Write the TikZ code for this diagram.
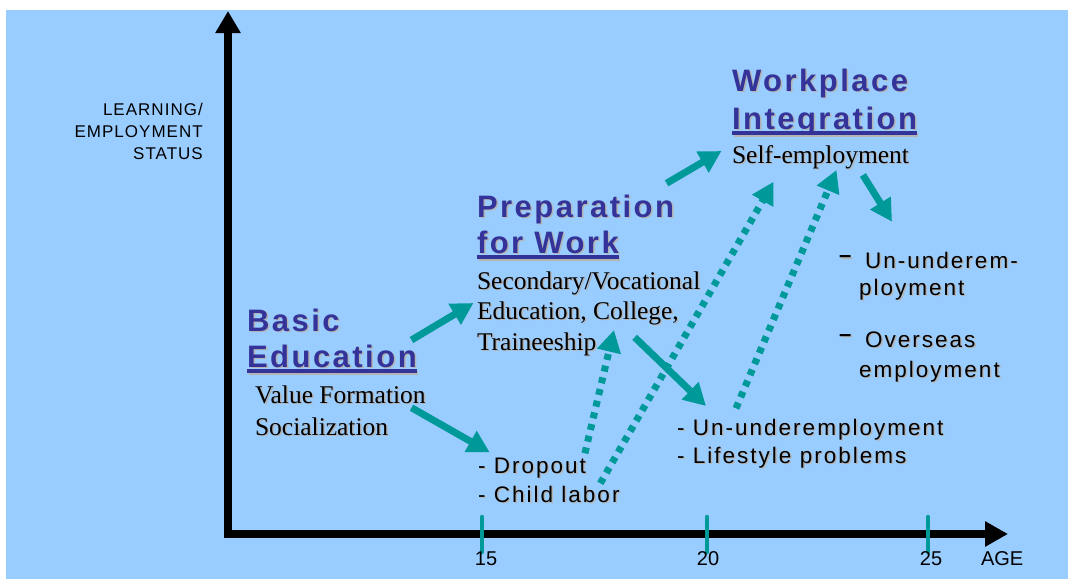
\documentclass[tikz,border=0pt]{standalone}
\usepackage{fontspec}
\setmainfont{Liberation Serif}
\setsansfont{Liberation Sans}
\newfontfamily\ttlfont[LetterSpace=8]{Liberation Sans}
\newfontfamily\bodyfont[LetterSpace=9]{Liberation Sans}
\newfontfamily\axfont[LetterSpace=6]{Liberation Sans}
\usetikzlibrary{arrows.meta}
\definecolor{bgblue}{HTML}{99CCFF}
\definecolor{tealc}{HTML}{009999}
\definecolor{ttlblue}{HTML}{333399}
\definecolor{shadowc}{HTML}{B4B4B4}
\newcommand\shtxt[1]{\leavevmode\rlap{\kern1.5pt\raisebox{-1.5pt}{\color{shadowc}#1}}#1}
\begin{document}
\begin{tikzpicture}[x=1pt,y=-1pt,
 txt/.style={inner sep=0pt, outer sep=0pt, anchor=base west},
 ttl/.style={txt, font=\ttlfont\bfseries\fontsize{31}{36}\selectfont, text=ttlblue},
 ser/.style={txt, font=\rmfamily\fontsize{25.5}{30}\selectfont},
 sns/.style={txt, font=\bodyfont\fontsize{22.5}{28}\selectfont},
 bul/.style={txt, font=\sffamily\bfseries\fontsize{22}{28}\selectfont},
 axl/.style={inner sep=0pt, anchor=base east, font=\axfont\fontsize{17}{22}\selectfont},
 tkl/.style={inner sep=0pt, anchor=base, font=\sffamily\fontsize{20}{24}\selectfont},
 flow/.style={tealc, line width=7pt, -{Triangle[length=22pt,width=23pt]}},
 dflow/.style={flow, dash pattern=on 6pt off 6pt},
 axisl/.style={line width=8pt, black, line join=miter, {Triangle[length=22pt,width=24pt]}-{Triangle[length=23pt,width=24pt]}},
 tickl/.style={tealc, line width=4.5pt, line cap=round},
 ul/.style={ttlblue, line width=4pt},
 ulsh/.style={shadowc, line width=4pt},
]
\useasboundingbox (0,0) rectangle (1068,579);
\fill[bgblue] (6,10) rectangle (1068,579);

% axes
\coordinate (ytop) at (228,11);
\coordinate (orig) at (228,534);
\coordinate (xend) at (1008,534);
\draw[axisl] (ytop) -- (orig) -- (xend);

% ticks
\draw[tickl] (482,517) -- (482,552);
\draw[tickl] (707,517) -- (707,552);
\draw[tickl] (928,517) -- (928,552);

% axis labels
\node[axl] (y1) at (203,115) {LEARNING/};
\node[axl] (y2) at (203,137) {EMPLOYMENT};
\node[axl] (y3) at (203,159) {STATUS};
\node[tkl] (k15) at (486,565) {15};
\node[tkl] (k20) at (708,565) {20};
\node[tkl] (k25) at (931,565) {25};
\node[txt, font=\sffamily\fontsize{20}{24}\selectfont] (age) at (981,565) {AGE};

% titles
\node[ttl] (t1a) at (247,331) {\shtxt{Basic}};
\node[ttl] (t1b) at (247,367) {\shtxt{Education}};
\node[ttl] (t2a) at (477,217) {\shtxt{Preparation}};
\node[ttl] (t2b) at (477,253) {\shtxt{for Work}};
\node[ttl] (t3a) at (732,91) {\shtxt{Workplace}};
\node[ttl] (t3b) at (732,129) {\shtxt{Integration}};
\foreach \n in {t1b,t2b,t3b}{
  \draw[ulsh] ([xshift=1.5pt,yshift=-5.5pt]\n.base west) -- ([xshift=1.5pt,yshift=-5.5pt]\n.base east);
  \draw[ul] ([yshift=-4pt]\n.base west) -- ([yshift=-4pt]\n.base east);
}

% serif texts
\node[ser] (v1) at (255,403) {\shtxt{Value Formation}};
\node[ser] (v2) at (255,435) {\shtxt{Socialization}};
\node[ser] (p1) at (477,289) {\shtxt{Secondary/Vocational}};
\node[ser] (p2) at (477,319) {\shtxt{Education, College,}};
\node[ser] (p3) at (477,350) {\shtxt{Traineeship}};
\node[ser] (w1) at (732,163) {\shtxt{Self-employment}};

% sans texts
\node[sns] (d1) at (478,473) {\shtxt{- Dropout}};
\node[sns] (d2) at (478,502) {\shtxt{- Child labor}};
\node[sns] (u1) at (677,435) {\shtxt{- Un-underemployment}};
\node[sns] (u2) at (677,463) {\shtxt{- Lifestyle problems}};
\node[bul] (b1) at (839,262.5) {\shtxt{\textendash}};
\node[sns] (o1) at (865,268) {\shtxt{Un-underem-}};
\node[sns] (o2) at (859,295) {\shtxt{ployment}};
\node[bul] (b2) at (839,341) {\shtxt{\textendash}};
\node[sns] (o3) at (865,347) {\shtxt{Overseas}};
\node[sns] (o4) at (859,377) {\shtxt{employment}};

% arrow end points
\coordinate (a1s) at (411.5,340);   \coordinate (a1e) at (473.5,303);
\coordinate (a2s) at (411.5,407.7); \coordinate (a2e) at (489.7,452.3);
\coordinate (a3s) at (666.6,183.3); \coordinate (a3e) at (721.5,151);
\coordinate (a4s) at (862.9,175);   \coordinate (a4e) at (892,221.7);
\coordinate (a5s) at (634.7,337.3); \coordinate (a5e) at (706,406);
\coordinate (a6s) at (584.9,453.3); \coordinate (a6e) at (614,330);
\coordinate (a7s) at (600.3,483.3); \coordinate (a7e) at (773.6,181.7);
\coordinate (a8s) at (736,408.3);   \coordinate (a8e) at (836.5,170);

\draw[flow] (a1s) -- (a1e);
\draw[flow] (a2s) -- (a2e);
\draw[flow] (a3s) -- (a3e);
\draw[flow] (a4s) -- (a4e);
\draw[flow] (a5s) -- (a5e);
\draw[dflow] (a6s) -- (a6e);
\draw[dflow] (a7s) -- (a7e);
\draw[dflow] (a8s) -- (a8e);
\end{tikzpicture}
\end{document}
